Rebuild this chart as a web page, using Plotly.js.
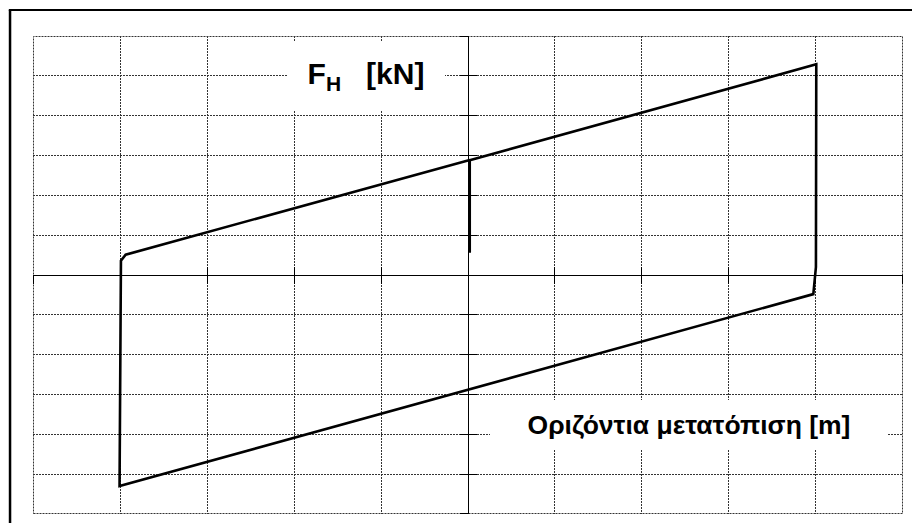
<!DOCTYPE html>
<html>
<head>
<meta charset="utf-8">
<script src="https://cdn.plot.ly/plotly-3.0.1.min.js"></script>
<style>
  html, body { margin: 0; padding: 0; background: #fff; }
  #chart { width: 912px; height: 523px; }
</style>
</head>
<body>
<div id="chart"></div>
<script>
// Hysteresis loop: horizontal displacement [m] vs horizontal force F_H [kN]
const displacement = [0.001, 0.001, 0.2002, 0.2000, 0.1985, -0.2003, -0.1995, -0.1968, 0.001];
const force        = [28,    144,   264.5,  10,     -24,    -265,    18,      25.5,    144.5];

const forceLabel = 'F<sub>H</sub>\u00A0\u00A0\u00A0[kN]';
const dispLabel = 'Οριζόντια μετατόπιση [m]';

const xRange = [-0.25005, 0.25005];
const yRange = [-300.03, 300.03];
const xStep = 0.05;
const yStep = 50;

const gridColor = '#333';
const gridDash = '2px,1px';
const gridStyle = { showgrid: true, gridcolor: gridColor, gridwidth: 1, griddash: gridDash };

const plotW = 870, plotH = 478;

const trace = {
  x: displacement,
  y: force,
  type: 'scatter',
  mode: 'lines',
  line: { color: '#000', width: 2.6 },
  hoverinfo: 'skip',
  showlegend: false
};

const layout = {
  width: 912,
  height: 523,
  margin: { l: 33, r: 9, t: 36, b: 9, pad: 0 },
  paper_bgcolor: '#fff',
  plot_bgcolor: '#fff',
  font: { family: 'Liberation Sans, Arial, sans-serif', color: '#000' },
  xaxis: Object.assign({
    range: xRange, tick0: 0, dtick: xStep,
    zeroline: false, showline: true, linecolor: '#000', linewidth: 1,
    anchor: 'free', position: 0.5,
    ticks: 'outside', ticklen: 8, tickcolor: '#000', tickwidth: 1,
    showticklabels: false, fixedrange: true
  }, gridStyle),
  xaxis2: {
    overlaying: 'x', matches: 'x', range: xRange, tick0: 0, dtick: xStep,
    showgrid: false, zeroline: false, showline: false,
    anchor: 'free', position: 0.5,
    ticks: 'inside', ticklen: 8, tickcolor: '#000', tickwidth: 1,
    showticklabels: false
  },
  yaxis: Object.assign({
    range: yRange, tick0: 0, dtick: yStep,
    zeroline: false, showline: true, linecolor: '#000', linewidth: 1,
    anchor: 'free', position: 0.5,
    ticks: 'outside', ticklen: 8, tickcolor: '#000', tickwidth: 1,
    showticklabels: false, fixedrange: true
  }, gridStyle),
  yaxis2: {
    overlaying: 'y', matches: 'y', range: yRange, tick0: 0, dtick: yStep,
    showgrid: false, zeroline: false, showline: false,
    anchor: 'free', position: 0.5,
    ticks: 'inside', ticklen: 8, tickcolor: '#000', tickwidth: 1,
    showticklabels: false
  },
  annotations: [
    {
      text: forceLabel, xref: 'x', yref: 'y', x: -0.0586, y: 250,
      showarrow: false, bgcolor: '#fff', borderpad: 0, borderwidth: 0,
      width: 158, height: 68, align: 'center', valign: 'middle',
      font: { size: 30, weight: 'bold', family: 'Liberation Sans, Arial, sans-serif', color: '#000' }
    },
    {
      text: dispLabel, xref: 'x', yref: 'y', x: 0.1269, y: -188.3,
      showarrow: false, bgcolor: '#fff', borderpad: 0, borderwidth: 0,
      width: 398, height: 50, align: 'center', valign: 'middle',
      font: { size: 26.5, weight: 'bold', family: 'Liberation Sans, Arial, sans-serif', color: '#000' }
    }
  ],
  shapes: [
    // dotted border of the grid (edge gridlines)
    { type: 'rect', xref: 'paper', yref: 'paper', layer: 'below',
      x0: 0.5 / plotW, x1: 1 - 0.5 / plotW, y0: 0.5 / plotH, y1: 1 - 0.5 / plotH,
      line: { color: gridColor, width: 1, dash: gridDash }, fillcolor: 'rgba(0,0,0,0)' },
    // outer frame (top and left edges)
    { type: 'line', xref: 'paper', yref: 'paper', x0: -0.0264, x1: -0.0264, y0: 1.0544, y1: -0.1,
      line: { color: '#000', width: 2.5 } },
    { type: 'line', xref: 'paper', yref: 'paper', x0: -0.0278, x1: 1.1, y0: 1.0544, y1: 1.0544,
      line: { color: '#000', width: 2 } }
  ]
};

// invisible points so the tick-only secondary axes are drawn
const tickX = { x: [0], y: [0], xaxis: 'x2', yaxis: 'y', mode: 'markers', marker: { opacity: 0 }, hoverinfo: 'skip', showlegend: false };
const tickY = { x: [0], y: [0], xaxis: 'x', yaxis: 'y2', mode: 'markers', marker: { opacity: 0 }, hoverinfo: 'skip', showlegend: false };

Plotly.newPlot('chart', [trace, tickX, tickY], layout, { staticPlot: true, displayModeBar: false });
</script>
</body>
</html>
